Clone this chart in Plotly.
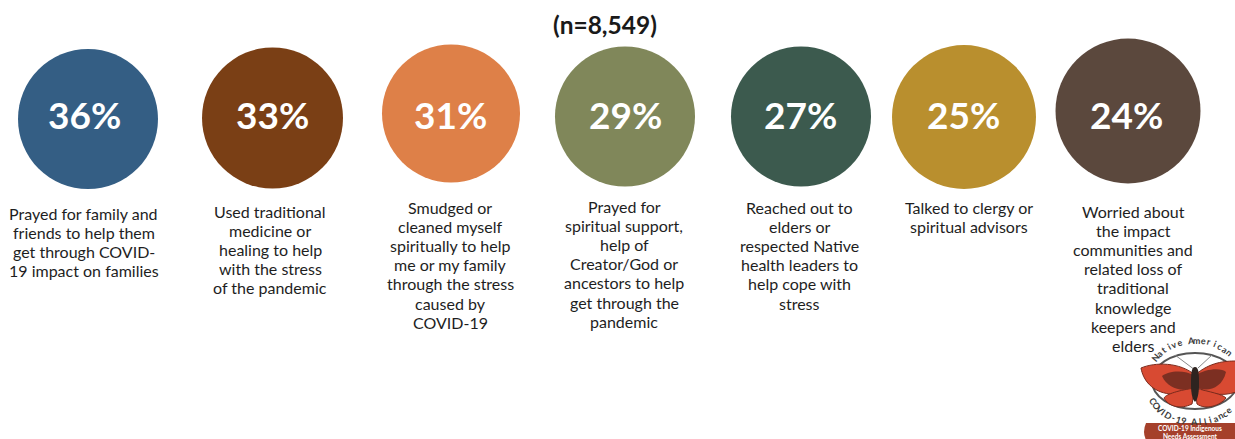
import math
import plotly.graph_objects as go

W, H = 1235, 439
percent_values = [36, 33, 31, 29, 27, 25, 24]
labels = [
    ["Prayed for family and", "friends to help them", "get through COVID-", "19 impact on families"],
    ["Used traditional", "medicine or", "healing to help", "with the stress", "of the pandemic"],
    ["Smudged or", "cleaned myself", "spiritually to help", "me or my family", "through the stress", "caused by", "COVID-19"],
    ["Prayed for", "spiritual support,", "help of", "Creator/God or", "ancestors to help", "get through the", "pandemic"],
    ["Reached out to", "elders or", "respected Native", "health leaders to", "help cope with", "stress"],
    ["Talked to clergy or", "spiritual advisors"],
    ["Worried about", "the impact", "communities and", "related loss of", "traditional", "knowledge", "keepers and", "elders"],
]
title_text = "(n=8,549)"

# layout (pixels)
colors = ["#345e84", "#7a3f15", "#de8048", "#80875a", "#3c5a4e", "#b98f2e", "#5b483d"]
cx = [88, 272.5, 451, 625, 801, 964, 1128]
cy = [119, 118, 113.5, 116.5, 116.5, 117, 111]
diam = [140, 141, 138, 140, 140, 144, 145]
pct_x = [84.5, 272.5, 450.5, 625, 800.5, 963.5, 1126]
pct_y = [114, 114, 114, 114, 114, 114, 114]
label_x = [83.5, 270, 450, 624, 799.5, 969, 1133]
label_first = [213, 211, 207, 206, 207, 207, 211]
PITCH = 19.2

fig = go.Figure()
fig.add_trace(go.Scatter(
    x=cx, y=cy, mode="markers", hoverinfo="skip",
    marker=dict(size=diam, color=colors, opacity=1, line=dict(width=0), sizemode="diameter"),
))

ann = []
for v, x, y in zip(percent_values, pct_x, pct_y):
    ann.append(dict(x=x, y=y, text=f"<b>{v}%</b>", showarrow=False, xanchor="center", yanchor="middle",
                    font=dict(family="Lato", size=37, color="#ffffff")))
for lines, x, y in zip(labels, label_x, label_first):
    for i, t in enumerate(lines):
        ann.append(dict(x=x, y=y + i * PITCH, text=t, showarrow=False, xanchor="center", yanchor="middle",
                        font=dict(family="Lato", size=16, color="#1e1e1e")))
ann.append(dict(x=605, y=24.5, text=f"<b>{title_text}</b>", showarrow=False, xanchor="center", yanchor="middle",
                font=dict(family="Lato", size=24.5, color="#1a1a1a")))

# logo
lx, ly = 1195, 381
RX, RY = 48, 41
def arc_text(s, start, end, top=True, size=9, color="#3a3a3a"):
    n = len(s)
    for i, ch in enumerate(s):
        if ch == " ":
            continue
        a = start + (end - start) * i / (n - 1)
        rad = math.radians(a)
        px = lx + RX * math.sin(rad)
        py = ly - RY * math.cos(rad)
        ang = math.degrees(math.atan2(RY * math.sin(rad), RX * math.cos(rad)))
        rot = ang if top else ang - 180
        ann.append(dict(x=px, y=py, text=f"<b>{ch}</b>", showarrow=False, textangle=rot,
                        font=dict(family="Lato", size=size, color=color)))
arc_text("Native American", -55, 46)
arc_text("COVID-19 Alliance", 240, 135, top=False)

ann.append(dict(x=1190, y=423, yanchor="top", text="<b>COVID-19 Indigenous<br>Needs Assessment</b>", showarrow=False,
                font=dict(family="Lato", size=6.5, color="#ffffff")))

shapes = [
    dict(type="circle", x0=lx-43, x1=lx+43, y0=ly-28, y1=ly+28, line=dict(color="#555555", width=2)),
    dict(type="line", x0=1175, y0=355, x1=1195, y1=370, line=dict(color="#888888", width=1)),
    dict(type="line", x0=1212, y0=355, x1=1198, y1=368, line=dict(color="#888888", width=1)),
    dict(type="path", path="M1195 375 C1180 362 1155 362 1141 368 C1143 380 1152 392 1170 394 C1182 396 1192 392 1195 385 Z",
         fillcolor="#d84a32", line=dict(color="#7a2a1c", width=1)),
    dict(type="path", path="M1195 375 C1210 362 1225 361 1236 361 L1236 392 C1222 397 1205 394 1195 385 Z",
         fillcolor="#d84a32", line=dict(color="#7a2a1c", width=1)),
    dict(type="path", path="M1195 388 C1180 390 1166 394 1164 398 C1168 406 1180 410 1192 404 Z",
         fillcolor="#d84a32", line=dict(color="#7a2a1c", width=1)),
    dict(type="path", path="M1195 388 C1210 392 1222 394 1226 398 C1220 406 1205 410 1197 404 Z",
         fillcolor="#d84a32", line=dict(color="#7a2a1c", width=1)),
    dict(type="path", path="M1195 376 C1184 369 1168 371 1162 376 C1168 390 1186 393 1195 386 Z",
         fillcolor="#7c2f22", line=dict(width=0)),
    dict(type="path", path="M1195 376 C1206 368 1222 368 1226 372 C1222 390 1204 393 1195 386 Z",
         fillcolor="#7c2f22", line=dict(width=0)),
    dict(type="path", path="M1195 367 C1199 367 1199 375 1199 385 C1199 395 1197 400 1195 402 C1193 400 1191 395 1191 385 C1191 375 1191 367 1195 367 Z",
         fillcolor="#2e2420", line=dict(width=0)),
    dict(type="path", path="M1146 423 L1236 423 L1236 440 L1146 440 Q1142 432 1146 423 Z",
         fillcolor="#a5402b", line=dict(width=0)),
]

fig.update_layout(
    width=W, height=H, margin=dict(l=0, r=0, t=0, b=0), autosize=False,
    paper_bgcolor="#ffffff", plot_bgcolor="#ffffff", showlegend=False,
    xaxis=dict(range=[0, W], visible=False, fixedrange=True),
    yaxis=dict(range=[H, 0], visible=False, fixedrange=True),
    annotations=ann, shapes=shapes,
)
fig.write_html("out.html", config={"displayModeBar": False},
               post_script="document.body.style.margin='0';document.body.style.overflow='hidden';")
